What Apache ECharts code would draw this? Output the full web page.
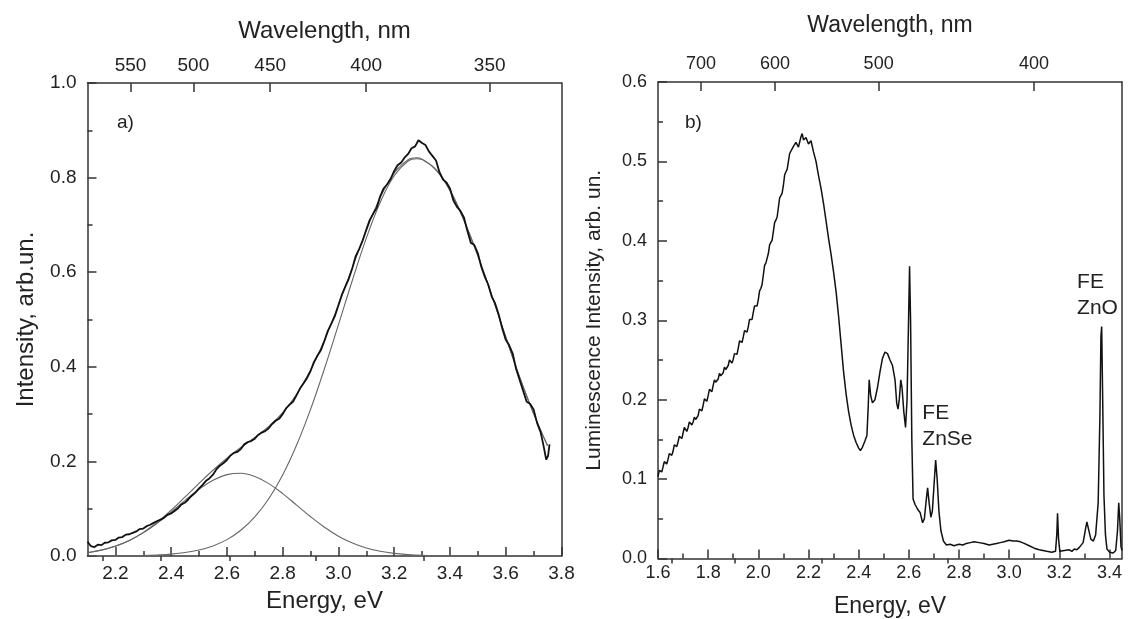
<!DOCTYPE html>
<html><head><meta charset="utf-8">
<script src="https://cdn.jsdelivr.net/npm/echarts@6/dist/echarts.min.js"></script>
<style>html,body{margin:0;padding:0;background:#fff}#c{width:1130px;height:619px}</style>
</head><body><div id="c"></div>
<script>
const HC = 1239.84;
// ---------- panel a ----------
const aEnergyTicks = [2.2, 2.4, 2.6, 2.8, 3.0, 3.2, 3.4, 3.6, 3.8];
const aEnergyMinor = [2.3, 2.5, 2.7, 2.9, 3.1, 3.3, 3.5, 3.7];
const aWlTicks = [550, 500, 450, 400, 350];
const aWlMinor = [575, 525, 475, 425, 375];
const aMeasured = [[2.100,.030],[2.112,.021],[2.125,.019],[2.137,.024],[2.150,.023],[2.162,.028],[2.175,.029],[2.187,.033],[2.200,.034],[2.212,.039],[2.225,.040],[2.237,.045],[2.250,.046],[2.262,.049],[2.275,.052],[2.287,.057],[2.300,.058],[2.312,.063],[2.325,.066],[2.337,.070],[2.350,.074],[2.362,.077],[2.375,.081],[2.387,.087],[2.400,.090],[2.412,.095],[2.425,.101],[2.437,.109],[2.450,.113],[2.462,.120],[2.475,.128],[2.487,.134],[2.500,.143],[2.512,.150],[2.525,.159],[2.537,.164],[2.550,.172],[2.562,.183],[2.575,.191],[2.587,.196],[2.600,.203],[2.612,.212],[2.625,.218],[2.637,.220],[2.650,.226],[2.662,.236],[2.675,.241],[2.687,.243],[2.700,.248],[2.712,.256],[2.725,.261],[2.737,.264],[2.750,.270],[2.762,.279],[2.775,.286],[2.787,.290],[2.800,.300],[2.812,.312],[2.825,.320],[2.837,.326],[2.850,.340],[2.862,.354],[2.875,.365],[2.887,.376],[2.900,.391],[2.912,.410],[2.925,.424],[2.937,.435],[2.950,.455],[2.962,.476],[2.975,.492],[2.987,.507],[3.000,.530],[3.012,.552],[3.025,.570],[3.037,.586],[3.050,.609],[3.062,.634],[3.075,.650],[3.087,.667],[3.100,.690],[3.112,.710],[3.125,.724],[3.137,.736],[3.150,.761],[3.162,.777],[3.175,.786],[3.187,.797],[3.200,.814],[3.212,.826],[3.225,.832],[3.237,.842],[3.250,.850],[3.262,.862],[3.275,.866],[3.287,.879],[3.300,.873],[3.312,.869],[3.325,.855],[3.337,.846],[3.350,.836],[3.362,.812],[3.375,.796],[3.387,.790],[3.400,.777],[3.412,.752],[3.425,.738],[3.437,.730],[3.450,.716],[3.462,.688],[3.475,.662],[3.487,.658],[3.500,.640],[3.512,.612],[3.525,.590],[3.537,.574],[3.550,.548],[3.562,.534],[3.575,.510],[3.587,.482],[3.600,.457],[3.612,.446],[3.625,.428],[3.637,.396],[3.650,.372],[3.662,.350],[3.675,.326],[3.687,.322],[3.700,.310],[3.712,.282],[3.725,.262],[3.735,.235],[3.745,.204],[3.752,.212],[3.757,.236]];
const aFit = [[2.10,.007],[2.15,.0125],[2.20,.021],[2.25,.033],[2.30,.050],[2.35,.0714],[2.40,.0967],[2.45,.1248],[2.50,.1537],[2.55,.1813],[2.60,.2066],[2.65,.2294],[2.70,.2506],[2.75,.274],[2.80,.303],[2.85,.342],[2.90,.393],[2.95,.457],[3.00,.531],[3.05,.610],[3.10,.689],[3.15,.758],[3.20,.810],[3.25,.838],[3.28,.842],[3.30,.839],[3.35,.817],[3.40,.773],[3.45,.710],[3.50,.635],[3.55,.551],[3.60,.463],[3.65,.378],[3.70,.301],[3.75,.233]];
const aPeakLow = [[2.10,.007],[2.15,.0124],[2.20,.0207],[2.25,.0327],[2.30,.0489],[2.35,.0692],[2.40,.0927],[2.45,.1175],[2.50,.141],[2.55,.160],[2.60,.172],[2.65,.175],[2.70,.168],[2.75,.153],[2.80,.132],[2.85,.1076],[2.90,.083],[2.95,.0607],[3.00,.0419],[3.05,.0274],[3.10,.017],[3.15,.0099],[3.20,.0055],[3.25,.0029],[3.30,.0014],[3.35,.0007],[3.40,.0003],[3.50,.0001],[3.60,0],[3.75,0]];
const aPeakHigh = [[2.10,0],[2.20,.0003],[2.30,.0011],[2.35,.0022],[2.40,.004],[2.45,.0073],[2.50,.0127],[2.55,.0213],[2.60,.0346],[2.65,.0544],[2.70,.0826],[2.75,.121],[2.80,.1714],[2.85,.2347],[2.90,.310],[2.95,.3964],[3.00,.489],[3.05,.583],[3.10,.672],[3.15,.748],[3.20,.804],[3.25,.835],[3.28,.840],[3.30,.838],[3.35,.816],[3.40,.773],[3.45,.710],[3.50,.635],[3.55,.551],[3.60,.463],[3.65,.378],[3.70,.301],[3.75,.233]];
// ---------- panel b ----------
const bEnergyTicks = [1.6, 1.8, 2.0, 2.2, 2.4, 2.6, 2.8, 3.0, 3.2, 3.4];
const bEnergyMinor = [1.7, 1.9, 2.1, 2.3, 2.5, 2.7, 2.9, 3.1, 3.3];
const bWlTicks = [700, 600, 500, 400];
const bWlMinor = [750, 650, 550, 450];
const bMeasured = [[1.600,.103],[1.605,.111],[1.610,.110],[1.615,.109],[1.620,.115],[1.625,.122],[1.630,.121],[1.635,.119],[1.640,.125],[1.645,.132],[1.650,.131],[1.655,.130],[1.660,.135],[1.665,.143],[1.670,.142],[1.675,.141],[1.680,.147],[1.685,.154],[1.690,.152],[1.695,.151],[1.700,.158],[1.705,.165],[1.710,.163],[1.715,.160],[1.720,.165],[1.725,.172],[1.730,.170],[1.735,.168],[1.740,.172],[1.745,.178],[1.750,.175],[1.755,.174],[1.760,.180],[1.765,.188],[1.770,.187],[1.775,.186],[1.780,.193],[1.785,.201],[1.790,.199],[1.795,.198],[1.800,.205],[1.805,.213],[1.810,.211],[1.815,.210],[1.820,.218],[1.825,.225],[1.830,.222],[1.835,.220],[1.840,.226],[1.845,.233],[1.850,.230],[1.855,.228],[1.860,.234],[1.865,.241],[1.870,.238],[1.875,.237],[1.880,.243],[1.885,.250],[1.890,.248],[1.895,.246],[1.900,.251],[1.905,.258],[1.910,.256],[1.915,.257],[1.920,.265],[1.925,.274],[1.930,.273],[1.935,.272],[1.940,.279],[1.945,.287],[1.950,.285],[1.955,.285],[1.960,.292],[1.965,.301],[1.970,.300],[1.975,.301],[1.980,.310],[1.985,.318],[1.990,.317],[1.995,.318],[2.000,.326],[2.005,.337],[2.010,.340],[2.015,.345],[2.020,.357],[2.025,.369],[2.030,.372],[2.035,.374],[2.040,.384],[2.045,.395],[2.050,.398],[2.055,.401],[2.060,.412],[2.065,.423],[2.070,.426],[2.075,.430],[2.080,.442],[2.085,.454],[2.090,.457],[2.095,.460],[2.100,.470],[2.105,.483],[2.110,.487],[2.115,.490],[2.120,.500],[2.125,.510],[2.130,.511],[2.140,.519],[2.150,.524],[2.160,.518],[2.170,.531],[2.175,.535],[2.180,.527],[2.190,.530],[2.200,.522],[2.210,.526],[2.220,.512],[2.230,.500],[2.240,.482],[2.250,.466],[2.260,.447],[2.270,.425],[2.280,.403],[2.290,.383],[2.300,.361],[2.310,.336],[2.320,.305],[2.330,.270],[2.340,.235],[2.350,.207],[2.360,.185],[2.370,.168],[2.380,.155],[2.390,.146],[2.400,.139],[2.407,.136],[2.415,.140],[2.425,.148],[2.433,.155],[2.438,.190],[2.442,.225],[2.448,.205],[2.455,.196],[2.465,.200],[2.475,.215],[2.485,.235],[2.495,.252],[2.505,.260],[2.515,.258],[2.525,.250],[2.535,.243],[2.545,.225],[2.552,.195],[2.557,.188],[2.562,.200],[2.568,.225],[2.573,.215],[2.580,.185],[2.587,.165],[2.593,.200],[2.599,.300],[2.603,.368],[2.607,.300],[2.612,.150],[2.617,.075],[2.625,.068],[2.635,.062],[2.645,.058],[2.655,.045],[2.662,.050],[2.670,.075],[2.675,.089],[2.681,.070],[2.688,.052],[2.694,.060],[2.700,.090],[2.707,.124],[2.713,.100],[2.720,.060],[2.728,.035],[2.738,.022],[2.750,.017],[2.765,.018],[2.780,.016],[2.800,.018],[2.815,.017],[2.830,.019],[2.845,.020],[2.860,.021],[2.880,.020],[2.900,.019],[2.920,.017],[2.935,.018],[2.950,.019],[2.965,.020],[2.980,.021],[3.000,.023],[3.015,.022],[3.030,.022],[3.045,.021],[3.060,.019],[3.080,.016],[3.100,.013],[3.120,.011],[3.135,.010],[3.150,.009],[3.170,.008],[3.185,.009],[3.190,.030],[3.193,.057],[3.197,.025],[3.202,.009],[3.220,.010],[3.240,.011],[3.250,.009],[3.260,.012],[3.270,.011],[3.280,.014],[3.295,.020],[3.305,.038],[3.310,.046],[3.318,.035],[3.326,.024],[3.336,.022],[3.345,.030],[3.355,.070],[3.362,.180],[3.366,.280],[3.369,.292],[3.373,.200],[3.378,.080],[3.384,.030],[3.390,.012],[3.400,.008],[3.415,.007],[3.425,.010],[3.432,.035],[3.437,.070],[3.441,.050],[3.446,.015],[3.450,.010]];

const FONT = "'Liberation Sans', Arial, Helvetica, sans-serif";
const AX = '#333', TXT = '#222';
const toE = l => HC / l;

function xAxes(grid, min, max, ticks, minor, wl, wlMinor, fs, nfs, gapB, gapT, lblMarginB, lblMarginT) {
  const base = { type: 'value', gridIndex: grid, min: min, max: max, splitLine: { show: false } };
  const line = { show: true, onZero: false, lineStyle: { color: AX, width: 1.5 } };
  return [
    Object.assign({}, base, {
      position: 'bottom', name: 'Energy, eV', nameLocation: 'middle', nameGap: gapB,
      nameTextStyle: { fontSize: nfs, color: TXT, fontFamily: FONT },
      axisLine: line,
      axisTick: { show: true, inside: true, length: 9, customValues: ticks, lineStyle: { color: AX, width: 1.5 } },
      axisLabel: { show: true, customValues: ticks, margin: lblMarginB, fontSize: fs, color: TXT, fontFamily: FONT, formatter: v => v.toFixed(1) }
    }),
    Object.assign({}, base, {
      position: 'bottom', axisLine: { show: false }, axisLabel: { show: false },
      axisTick: { show: true, inside: true, length: 5, customValues: minor, lineStyle: { color: AX, width: 1.5 } }
    }),
    Object.assign({}, base, {
      position: 'top', name: 'Wavelength, nm', nameLocation: 'middle', nameGap: gapT,
      nameTextStyle: { fontSize: nfs, color: TXT, fontFamily: FONT },
      axisLine: line,
      axisTick: { show: true, inside: true, length: 9, customValues: wl.map(toE), lineStyle: { color: AX, width: 1.5 } },
      axisLabel: { show: true, customValues: wl.map(toE), margin: lblMarginT, fontSize: fs, color: TXT, fontFamily: FONT, formatter: v => String(Math.round(HC / v)) }
    }),
    Object.assign({}, base, {
      position: 'top', axisLine: { show: false }, axisLabel: { show: false },
      axisTick: { show: true, inside: true, length: 5, customValues: wlMinor.map(toE), lineStyle: { color: AX, width: 1.5 } }
    })
  ];
}
function yAxes(grid, max, interval, name, fs, nfs, gap) {
  return [
    { type: 'value', gridIndex: grid, position: 'left', min: 0, max: max, interval: interval,
      name: name, nameLocation: 'middle', nameGap: gap,
      nameTextStyle: { fontSize: nfs, color: TXT, fontFamily: FONT },
      axisLine: { show: true, onZero: false, lineStyle: { color: AX, width: 1.5 } },
      axisTick: { show: true, inside: true, length: 9, lineStyle: { color: AX, width: 1.5 } },
      minorTick: { show: true, splitNumber: 2, length: 5, lineStyle: { color: AX, width: 1.5 } },
      axisLabel: { margin: 11, fontSize: fs, color: TXT, fontFamily: FONT, formatter: v => v.toFixed(1) },
      splitLine: { show: false } },
    { type: 'value', gridIndex: grid, position: 'right', min: 0, max: max,
      axisLine: { show: true, onZero: false, lineStyle: { color: AX, width: 1.5 } },
      axisTick: { show: false }, axisLabel: { show: false }, splitLine: { show: false } }
  ];
}

const chart = echarts.init(document.getElementById('c'), null, { renderer: 'canvas' });
const thin = { color: '#666', width: 1.1 };
chart.setOption({
  animation: false,
  backgroundColor: '#ffffff',
  grid: [
    { left: 87.5, top: 83, width: 474, height: 473, outerBoundsMode: 'none' },
    { left: 658, top: 82, width: 464, height: 476.5, outerBoundsMode: 'none' }
  ],
  xAxis: [].concat(
    xAxes(0, 2.1, 3.8, aEnergyTicks, aEnergyMinor, aWlTicks, aWlMinor, 19, 24, 33, 40, 8, 8),
    xAxes(1, 1.6, 3.45, bEnergyTicks, bEnergyMinor, bWlTicks, bWlMinor, 18, 23, 37, 45, 6, 9)
  ),
  yAxis: [].concat(
    yAxes(0, 1.0, 0.2, 'Intensity, arb.un.', 19, 24, 49),
    yAxes(1, 0.6, 0.1, 'Luminescence Intensity, arb. un.', 18, 21, 53)
  ),
  graphic: [
    { type: 'text', left: 117, top: 113, style: { text: 'a)', fontSize: 19, fill: TXT, fontFamily: FONT } },
    { type: 'text', left: 685, top: 113, style: { text: 'b)', fontSize: 19, fill: TXT, fontFamily: FONT } }
  ],
  series: [
    { type: 'line', xAxisIndex: 0, yAxisIndex: 0, data: aPeakLow, showSymbol: false, smooth: 0.4, lineStyle: thin, z: 2 },
    { type: 'line', xAxisIndex: 0, yAxisIndex: 0, data: aPeakHigh, showSymbol: false, smooth: 0.4, lineStyle: thin, z: 2 },
    { type: 'line', xAxisIndex: 0, yAxisIndex: 0, data: aFit, showSymbol: false, smooth: 0.4, lineStyle: thin, z: 2 },
    { type: 'line', xAxisIndex: 0, yAxisIndex: 0, data: aMeasured, showSymbol: false, lineStyle: { color: '#111', width: 1.8 }, z: 3 },
    { type: 'line', xAxisIndex: 4, yAxisIndex: 2, data: bMeasured, showSymbol: false, lineStyle: { color: '#111', width: 1.5 }, z: 3,
      markPoint: {
        symbol: 'circle', symbolSize: 1, itemStyle: { color: 'rgba(0,0,0,0)' },
        label: { show: true, position: 'right', distance: 0, formatter: p => p.name, fontSize: 21, lineHeight: 26, color: TXT, fontFamily: FONT },
        data: [
          { name: 'FE\nZnSe', coord: [2.652, 0.167] },
          { name: 'FE\nZnO', coord: [3.269, 0.331] }
        ]
      }
    }
  ]
});
</script>
</body></html>
